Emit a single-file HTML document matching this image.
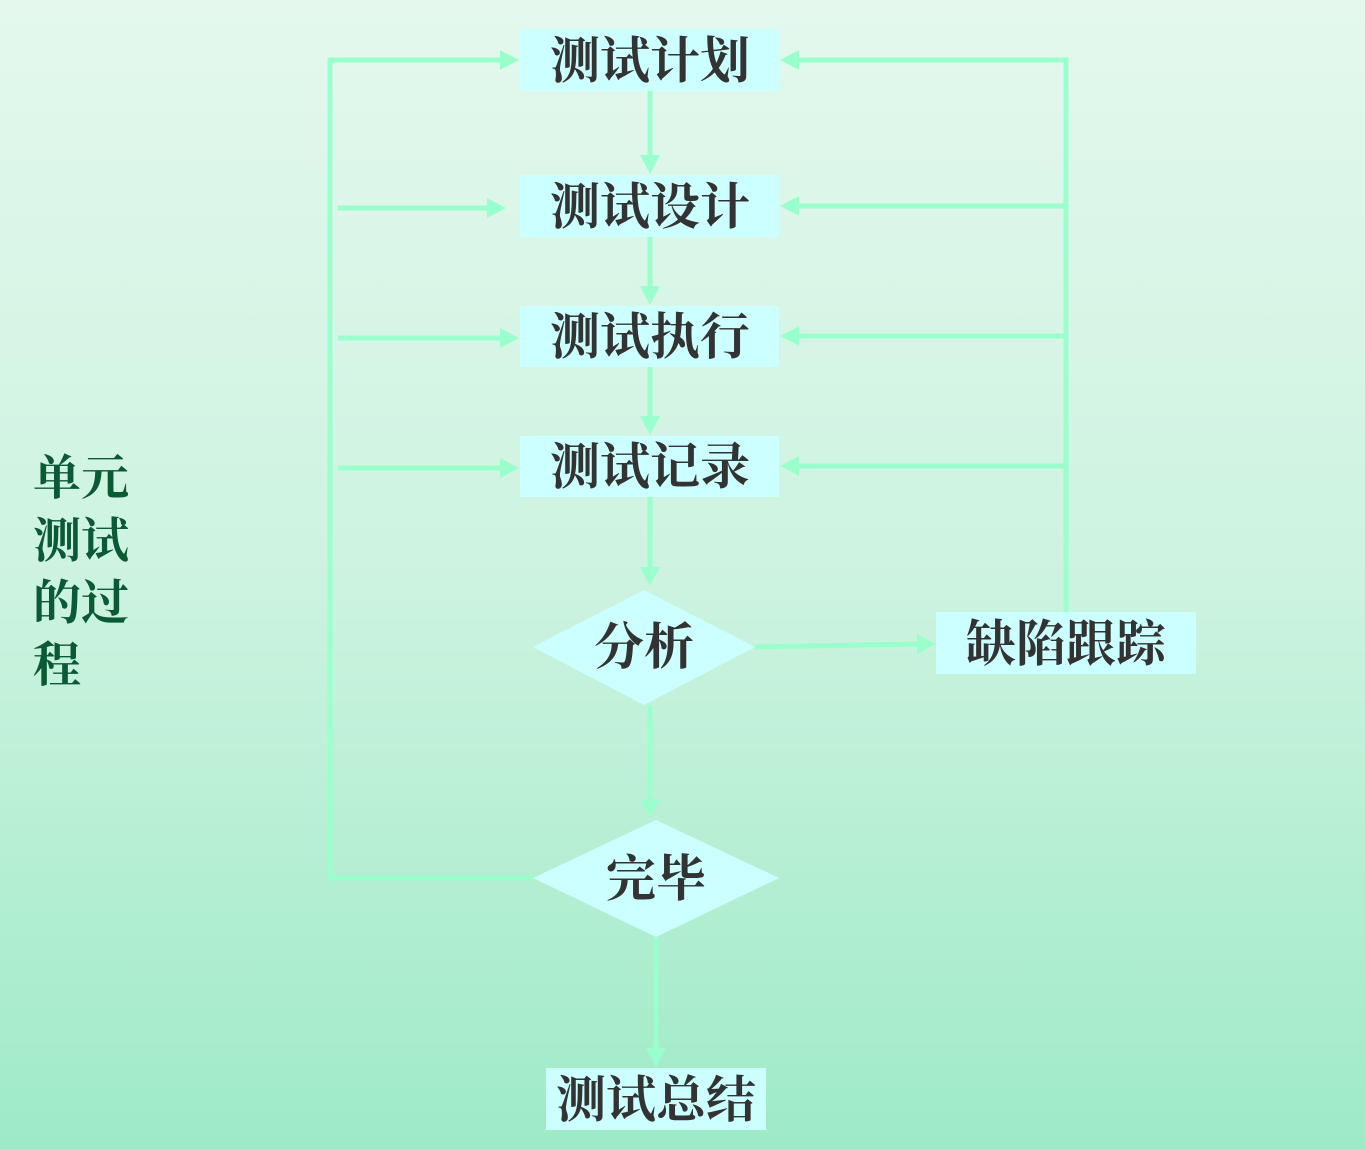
<!DOCTYPE html>
<html><head><meta charset="utf-8"><style>
html,body{margin:0;padding:0;}
body{width:1365px;height:1149px;overflow:hidden;background:linear-gradient(#e4f8ee 0%,#d0f4e2 50%,#9feac6 100%);}
svg{display:block}
text{font-family:"Liberation Serif","Noto Serif CJK SC","Noto Sans CJK SC",serif;font-weight:bold;}
</style></head><body>
<svg width="1365" height="1149" viewBox="0 0 1365 1149">
<defs>
<linearGradient id="bg" x1="0" y1="0" x2="0" y2="1"><stop offset="0" stop-color="#e4f8ee"/><stop offset="0.5" stop-color="#cdf3e0"/><stop offset="1" stop-color="#9eeac6"/></linearGradient>
</defs>
<rect width="1365" height="1149" fill="url(#bg)"/>
<g stroke="#99ffcc" stroke-width="5" fill="none">
<polyline points="533,878 330,878 330,60 500,60"/>
<line x1="338" y1="208" x2="488" y2="208"/>
<line x1="338" y1="338" x2="500" y2="338"/>
<line x1="338" y1="468" x2="500" y2="468"/>
<polyline points="1066,612 1066,60 798,60"/>
<line x1="1066" y1="206" x2="798" y2="206"/>
<line x1="1066" y1="336" x2="798" y2="336"/>
<line x1="1066" y1="466" x2="798" y2="466"/>
<line x1="650" y1="91" x2="650" y2="158"/>
<line x1="650" y1="237" x2="650" y2="288"/>
<line x1="650" y1="367" x2="650" y2="418"/>
<line x1="650" y1="497" x2="650" y2="570"/>
<line x1="650" y1="705" x2="650" y2="802"/>
<line x1="656" y1="937" x2="656" y2="1050"/>
<line x1="755" y1="647" x2="918" y2="644"/>
</g>
<g fill="#99ffcc">
<polygon points="519,60 500,50 500,70"/>
<polygon points="506,208 487,198 487,218"/>
<polygon points="519,338 500,328 500,348"/>
<polygon points="519,468 500,458 500,478"/>
<polygon points="780,60 799,50 799,70"/>
<polygon points="780,206 799,196 799,216"/>
<polygon points="780,336 799,326 799,346"/>
<polygon points="780,466 799,456 799,476"/>
<polygon points="650,174 640,155 660,155"/>
<polygon points="650,305 640,286 660,286"/>
<polygon points="650,435 640,416 660,416"/>
<polygon points="650,586 640,567 660,567"/>
<polygon points="650,818 640,799 660,799"/>
<polygon points="656,1067 646,1048 666,1048"/>
<polygon points="936,644 917,634 917,654"/>
</g>
<g fill="#ccffff">
<rect x="520" y="29" width="259" height="62"/>
<rect x="520" y="175" width="259" height="62"/>
<rect x="520" y="306" width="259" height="61"/>
<rect x="520" y="436" width="259" height="61"/>
<rect x="936" y="612" width="260" height="62"/>
<rect x="546" y="1068" width="220" height="62"/>
<polygon points="533,647 644,590 755,647 644,705"/>
<polygon points="533,878 656,820 779,878 656,937"/>
</g>
<g fill="#333" font-size="50" text-anchor="middle">
<text x="650" y="78">测试计划</text>
<text x="650" y="224">测试设计</text>
<text x="650" y="354">测试执行</text>
<text x="650" y="484">测试记录</text>
<text x="1066" y="661">缺陷跟踪</text>
<text x="656" y="1117">测试总结</text>
<text x="644" y="664">分析</text>
<text x="656" y="896">完毕</text>
</g>
<g fill="#0b5a36" font-size="48">
<text x="33" y="494">单元</text>
<text x="33" y="557">测试</text>
<text x="33" y="619">的过</text>
<text x="33" y="681">程</text>
</g>
</svg>
</body></html>
